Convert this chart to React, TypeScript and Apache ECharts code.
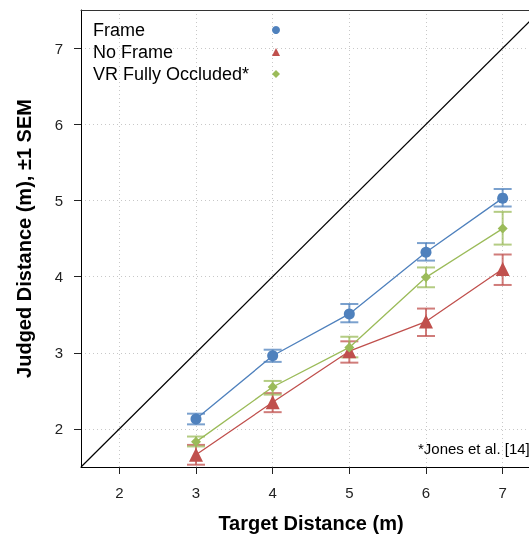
import React, { useEffect, useRef } from "react";
import * as echarts from "echarts";

const targets = [3, 4, 5, 6, 7];
const tickValues = [2, 3, 4, 5, 6, 7];

const frameMean = [2.13, 2.96, 3.51, 4.32, 5.03];
const frameLow = [2.06, 2.88, 3.4, 4.21, 4.92];
const frameHigh = [2.2, 3.04, 3.64, 4.44, 5.15];

const noFrameMean = [1.66, 2.35, 3.02, 3.41, 4.1];
const noFrameLow = [1.53, 2.22, 2.87, 3.22, 3.89];
const noFrameHigh = [1.79, 2.47, 3.15, 3.58, 4.29];

const vrMean = [1.83, 2.55, 3.07, 3.99, 4.63];
const vrLow = [1.77, 2.45, 2.94, 3.86, 4.42];
const vrHigh = [1.9, 2.63, 3.21, 4.12, 4.85];

const diagonal = [
  [1.5, 1.5],
  [7.5, 7.5],
];

const groups = [
  { name: "Frame", color: "#4F81BD", symbol: "circle", size: 11, mean: frameMean, low: frameLow, high: frameHigh },
  { name: "No Frame", color: "#C0504D", symbol: "triangle", size: 14, mean: noFrameMean, low: noFrameLow, high: noFrameHigh },
  { name: "VR Fully Occluded*", color: "#9BBB59", symbol: "diamond", size: 10, mean: vrMean, low: vrLow, high: vrHigh },
];

const FONT = "'Liberation Sans', Arial, Helvetica, sans-serif";

export default function App() {
  const ref = useRef<HTMLDivElement>(null);
  useEffect(() => {
    if (!ref.current) return;
    const chart = echarts.init(ref.current, undefined, { renderer: "svg" });

    const axisCommon = {
      type: "value",
      min: 1.5,
      max: 7.5,
      axisLine: { show: true, lineStyle: { color: "#000", width: 1 } },
      axisTick: { show: true, length: 7, lineStyle: { color: "#222" }, customValues: tickValues },
      axisLabel: { fontSize: 15, color: "#222", fontFamily: FONT, margin: 18, customValues: tickValues },
      splitLine: { show: true, lineStyle: { color: "#c8c8c8", type: [1, 3], width: 1 } },
      nameLocation: "middle",
      nameTextStyle: { fontSize: 20, fontWeight: "bold", color: "#000", fontFamily: FONT },
    };

    const series: any[] = [
      {
        type: "line",
        data: diagonal,
        symbol: "none",
        silent: true,
        lineStyle: { color: "#000", width: 1.2 },
        z: 1,
      },
    ];

    groups.forEach((g) => {
      series.push({
        type: "custom",
        name: g.name + " SEM",
        data: targets.map((t, i) => [t, g.low[i], g.high[i]]),
        encode: { x: 0, y: [1, 2] },
        z: 2,
        renderItem: (params: any, api: any) => {
          const x = api.value(0);
          const lo = api.coord([x, api.value(1)]);
          const hi = api.coord([x, api.value(2)]);
          const w = 9;
          const style = { stroke: g.color, lineWidth: 2, opacity: 0.75 };
          return {
            type: "group",
            children: [
              { type: "line", shape: { x1: lo[0], y1: lo[1], x2: hi[0], y2: hi[1] }, style },
              { type: "line", shape: { x1: lo[0] - w, y1: lo[1], x2: lo[0] + w, y2: lo[1] }, style },
              { type: "line", shape: { x1: hi[0] - w, y1: hi[1], x2: hi[0] + w, y2: hi[1] }, style },
            ],
          };
        },
      });
      series.push({
        type: "line",
        name: g.name,
        data: targets.map((t, i) => [t, g.mean[i]]),
        symbol: g.symbol,
        symbolSize: g.size,
        itemStyle: { color: g.color },
        lineStyle: { color: g.color, width: 1.3 },
        z: 3,
      });
    });

    chart.setOption({
      animation: false,
      grid: {
        left: 81,
        top: 10,
        width: 460,
        height: 457,
        show: false,
        containLabel: false,
        outerBoundsMode: "none",
      },
      xAxis: [
        { ...axisCommon, name: "Target Distance (m)", nameGap: 46 },
        {
          type: "value",
          position: "top",
          min: 1.5,
          max: 7.5,
          axisLine: { show: true, lineStyle: { color: "#333", width: 1 } },
          axisTick: { show: false },
          axisLabel: { show: false },
          splitLine: { show: false },
        },
      ],
      yAxis: { ...axisCommon, name: "Judged Distance (m), \u00b11 SEM", nameGap: 47 },
      legend: {
        orient: "vertical",
        left: 93,
        top: 21,
        padding: 0,
        align: "right",
        itemWidth: 8,
        itemHeight: 8,
        itemGap: 4,
        formatter: "{a|{name}}",
        textStyle: {
          fontSize: 18,
          color: "#000",
          fontFamily: FONT,
          rich: { a: { width: 174, align: "left", fontSize: 18, fontFamily: FONT, color: "#000", lineHeight: 17 } },
        },
        data: groups.map((g) => ({ name: g.name, icon: g.symbol })),
        selectedMode: false,
      },
      graphic: [
        {
          type: "text",
          x: 418,
          y: 448,
          style: { text: "*Jones et al. [14]", fontSize: 15, fill: "#000", fontFamily: FONT, verticalAlign: "middle" },
          silent: true,
        },
      ],
      series,
    });
    return () => chart.dispose();
  }, []);
  return <div ref={ref} style={{ position: "fixed", left: 0, top: 0, width: 545, height: 536 }} />;
}
